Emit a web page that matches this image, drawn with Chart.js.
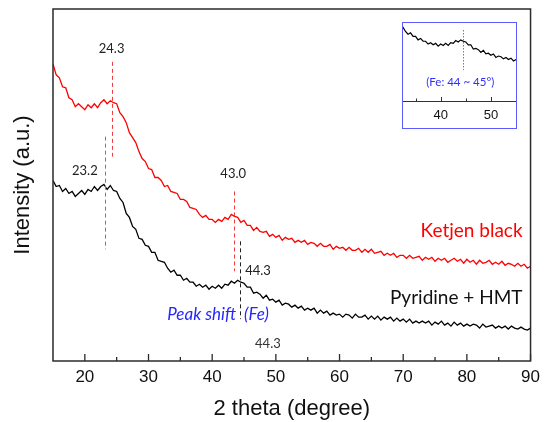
<!DOCTYPE html>
<html>
<head>
<meta charset="utf-8">
<script src="https://cdn.jsdelivr.net/npm/chart.js@4.4.0/dist/chart.umd.min.js"></script>
<style>
  html, body { margin: 0; padding: 0; background: #fff; }
  #wrap { position: relative; width: 546px; height: 422px; }
  #main { position: absolute; left: 0; top: 0; }
  #insetBox { position: absolute; left: 402px; top: 22px; width: 115px; height: 107px;
    border: 1px solid #5a5aff; box-sizing: border-box; background: #fff; }
  #inset { display: block; }
</style>
</head>
<body>
<div id="wrap">
  <canvas id="main" width="546" height="422"></canvas>
  <div id="insetBox"><canvas id="inset" width="113" height="105"></canvas></div>
</div>
<script>
// 2 theta values (degree)
const angles = [
  15, 15.5, 16, 16.5, 17, 17.5, 18, 18.5, 19, 19.5,
  20, 20.5, 21, 21.5, 22, 22.5, 23, 23.5, 24, 24.5,
  25, 25.5, 26, 26.5, 27, 27.5, 28, 28.5, 29, 29.5,
  30, 30.5, 31, 31.5, 32, 32.5, 33, 33.5, 34, 34.5,
  35, 35.5, 36, 36.5, 37, 37.5, 38, 38.5, 39, 39.5,
  40, 40.5, 41, 41.5, 42, 42.5, 43, 43.5, 44, 44.5,
  45, 45.5, 46, 46.5, 47, 47.5, 48, 48.5, 49, 49.5,
  50, 50.5, 51, 51.5, 52, 52.5, 53, 53.5, 54, 54.5,
  55, 55.5, 56, 56.5, 57, 57.5, 58, 58.5, 59, 59.5,
  60, 60.5, 61, 61.5, 62, 62.5, 63, 63.5, 64, 64.5,
  65, 65.5, 66, 66.5, 67, 67.5, 68, 68.5, 69, 69.5,
  70, 70.5, 71, 71.5, 72, 72.5, 73, 73.5, 74, 74.5,
  75, 75.5, 76, 76.5, 77, 77.5, 78, 78.5, 79, 79.5,
  80, 80.5, 81, 81.5, 82, 82.5, 83, 83.5, 84, 84.5,
  85, 85.5, 86, 86.5, 87, 87.5, 88, 88.5, 89, 89.5,
  90
];

// intensity (a.u.)
const ketjenBlack = [
  298, 287, 284, 275, 274, 264, 262, 255, 258, 255,
  252, 257, 254, 258, 254, 259, 262, 258, 261, 259,
  258, 249, 245, 239, 229, 224, 219, 210, 203, 200,
  193, 192, 184, 184, 181, 175, 176, 170, 169, 168,
  162, 162, 160, 154, 153, 152, 147, 144, 146, 142,
  142, 139, 142, 140, 144, 142, 147, 145, 144, 139,
  141, 136, 136, 131, 134, 130, 129, 130, 125, 127,
  124, 126, 121, 124, 122, 123, 119, 121, 119, 121,
  117, 119, 118, 115, 118, 115, 115, 117, 112, 115,
  113, 114, 111, 114, 111, 111, 113, 109, 112, 109,
  112, 108, 109, 110, 106, 108, 106, 108, 104, 106,
  106, 103, 106, 103, 104, 105, 101, 104, 102, 104,
  100, 103, 101, 103, 99, 101, 103, 100, 102, 98,
  102, 99, 101, 97, 101, 98, 99, 101, 97, 99,
  97, 100, 96, 98, 97, 95, 98, 95, 97, 93,
  95
];

const pyridineHmt = [
  181, 175, 176, 170, 173, 168, 170, 165, 168, 171,
  167, 172, 170, 175, 171, 175, 177, 172, 176, 171,
  170, 163, 159, 148, 144, 135, 132, 123, 122, 116,
  115, 109, 109, 101, 100, 99, 93, 89, 91, 86,
  86, 81, 83, 79, 79, 75, 77, 74, 76, 72,
  75, 73, 76, 73, 77, 76, 80, 78, 81, 79,
  78, 74, 74, 68, 69, 67, 63, 66, 61, 62,
  59, 61, 56, 58, 57, 54, 56, 53, 55, 51,
  53, 51, 53, 48, 51, 48, 50, 46, 48, 46,
  47, 44, 47, 46, 43, 47, 44, 44, 46, 42,
  45, 42, 45, 41, 44, 42, 44, 40, 43, 40,
  42, 39, 42, 38, 40, 38, 40, 38, 40, 36,
  39, 37, 40, 36, 38, 35, 39, 36, 38, 35,
  37, 35, 37, 36, 33, 37, 34, 35, 36, 33,
  35, 33, 35, 32, 35, 33, 32, 34, 32, 31,
  33
];

const xTicks = [20, 30, 40, 50, 60, 70, 80, 90];
const xMinorTicks = [25, 35, 45, 55, 65, 75, 85];
const insetTicks = [40, 50];
const insetMinorTicks = [35, 45, 55];

// peak marks: where the dashed lines sit and what the labels say
const peakAngles = [24.3, 23.2, 43.5, 44.3];
const peakLabels = ['24.3', '23.2', '43.0', '44.3'];
const feRange = '(Fe: 44 ~ 45°)';
const feAngle = 44.4;

const toPoints = ys => angles.map((a, i) => ({ x: a, y: ys[i] }));

const labelFont = '13px Lato';

// dashed line extents and label spots, in data units
const peakStyle = [
  { from: 205, to: 300, color: '#f03c3c', lx: 24.2, ly: 313 },
  { from: 112, to: 225, color: '#7a7a7a', lx: 20.0, ly: 191 },
  { from: 90, to: 170, color: '#f03c3c', lx: 43.3, ly: 188 },
  { from: 42, to: 120, color: '#222222', lx: 47.2, ly: 90 }
];

const framePlugin = {
  id: 'frame',
  afterDatasetsDraw(chart) {
    const { ctx, chartArea: a, scales: { x } } = chart;
    ctx.save();
    ctx.strokeStyle = '#2b2b2b';
    ctx.lineWidth = 1.5;
    ctx.strokeRect(a.left, a.top, a.right - a.left, a.bottom - a.top);
    ctx.lineWidth = 1.3;
    ctx.beginPath();
    xTicks.forEach(v => {
      const px = x.getPixelForValue(v);
      ctx.moveTo(px, a.bottom);
      ctx.lineTo(px, a.bottom - 7);
    });
    xMinorTicks.forEach(v => {
      const px = x.getPixelForValue(v);
      ctx.moveTo(px, a.bottom);
      ctx.lineTo(px, a.bottom - 4);
    });
    ctx.stroke();
    ctx.restore();
  }
};

const peakPlugin = {
  id: 'peaks',
  afterDatasetsDraw(chart) {
    const { ctx, scales: { x, y } } = chart;
    ctx.save();
    ctx.lineWidth = 1;
    ctx.setLineDash([4, 3]);
    peakAngles.forEach((p, i) => {
      const s = peakStyle[i];
      const px = Math.round(x.getPixelForValue(p)) + 0.5;
      ctx.strokeStyle = s.color;
      ctx.beginPath();
      ctx.moveTo(px, y.getPixelForValue(s.to));
      ctx.lineTo(px, y.getPixelForValue(s.from));
      ctx.stroke();
    });
    ctx.setLineDash([]);
    ctx.textAlign = 'center';
    ctx.textBaseline = 'middle';
    ctx.font = labelFont;
    ctx.fillStyle = '#222';
    peakLabels.forEach((t, i) => {
      const s = peakStyle[i];
      ctx.fillText(t, x.getPixelForValue(s.lx), y.getPixelForValue(s.ly));
    });
    ctx.fillStyle = '#333';
    ctx.fillText('44.3', x.getPixelForValue(48.75), y.getPixelForValue(17));

    ctx.fillStyle = '#2626ff';
    ctx.font = 'italic 17px Lato';
    ctx.textAlign = 'right';
    ctx.fillText('Peak shift', x.getPixelForValue(43.75), y.getPixelForValue(47));
    ctx.textAlign = 'left';
    ctx.fillText('(Fe)', x.getPixelForValue(45.0), y.getPixelForValue(47));

    ctx.textAlign = 'right';
    ctx.font = '19px Lato';
    ctx.fillStyle = '#ff0000';
    ctx.fillText('Ketjen black', x.getPixelForValue(88.75), y.getPixelForValue(130));
    ctx.fillStyle = '#111';
    ctx.fillText('Pyridine + HMT', x.getPixelForValue(88.75), y.getPixelForValue(63));
    ctx.restore();
  }
};

new Chart(document.getElementById('main'), {
  type: 'line',
  data: {
    datasets: [
      { label: 'Ketjen black', data: toPoints(ketjenBlack), borderColor: '#ff0000',
        borderWidth: 1.3, pointRadius: 0, tension: 0 },
      { label: 'Pyridine + HMT', data: toPoints(pyridineHmt), borderColor: '#000000',
        borderWidth: 1.3, pointRadius: 0, tension: 0 }
    ]
  },
  options: {
    responsive: false,
    animation: false,
    layout: { padding: { top: 9, right: 13, left: 0, bottom: 0 } },
    plugins: { legend: { display: false }, tooltip: { enabled: false } },
    scales: {
      x: {
        type: 'linear', min: 15, max: 90,
        afterBuildTicks: s => { s.ticks = xTicks.map(v => ({ value: v })); },
        afterFit: s => { s.height = 61; },
        grid: { display: false, drawTicks: false },
        border: { display: false },
        ticks: { color: '#111', font: { family: 'Liberation Sans', size: 17 }, padding: 6, maxRotation: 0 },
        title: { display: true, text: '2 theta (degree)', color: '#111',
          font: { family: 'Liberation Sans', size: 22 }, padding: { top: 0, bottom: 0 } }
      },
      y: {
        min: 0, max: 353,
        ticks: { display: false },
        grid: { display: false, drawTicks: false },
        border: { display: false },
        afterFit: s => { s.width = 53; },
        title: { display: true, text: 'Intensity (a.u.)', color: '#111',
          font: { family: 'Liberation Sans', size: 22 }, padding: { top: 10, bottom: 0 } }
      }
    }
  },
  plugins: [framePlugin, peakPlugin]
});

// inset: zoom of the Fe region
const insetPlugin = {
  id: 'insetMarks',
  afterDatasetsDraw(chart) {
    const { ctx, chartArea: a, scales: { x, y } } = chart;
    ctx.save();
    ctx.strokeStyle = '#333';
    ctx.lineWidth = 1;
    ctx.beginPath();
    insetTicks.forEach(v => {
      const px = Math.round(x.getPixelForValue(v)) + 0.5;
      ctx.moveTo(px, a.bottom);
      ctx.lineTo(px, a.bottom - 4);
    });
    insetMinorTicks.forEach(v => {
      const px = Math.round(x.getPixelForValue(v)) + 0.5;
      ctx.moveTo(px, a.bottom);
      ctx.lineTo(px, a.bottom - 2.5);
    });
    ctx.stroke();
    const fx = Math.round(x.getPixelForValue(feAngle)) + 0.5;
    ctx.strokeStyle = '#6a6aff';
    ctx.setLineDash([1.5, 1.5]);
    ctx.beginPath();
    ctx.moveTo(fx, y.getPixelForValue(95));
    ctx.lineTo(fx, y.getPixelForValue(38));
    ctx.stroke();
    ctx.setLineDash([]);
    ctx.fillStyle = '#3030ff';
    ctx.font = '11.5px Lato';
    ctx.textAlign = 'center';
    ctx.textBaseline = 'middle';
    ctx.fillText(feRange, x.getPixelForValue(43.9), y.getPixelForValue(21));
    ctx.restore();
  }
};

new Chart(document.getElementById('inset'), {
  type: 'line',
  data: {
    datasets: [
      { data: toPoints(pyridineHmt).filter(p => p.x >= 32 && p.x <= 56), borderColor: '#000000',
        borderWidth: 1.2, pointRadius: 0, tension: 0 }
    ]
  },
  options: {
    responsive: false,
    animation: false,
    layout: { padding: 0 },
    plugins: { legend: { display: false }, tooltip: { enabled: false } },
    scales: {
      x: {
        type: 'linear', min: 32.5, max: 55,
        afterBuildTicks: s => { s.ticks = insetTicks.map(v => ({ value: v })); },
        afterFit: s => { s.height = 27; },
        grid: { display: false, drawTicks: false },
        border: { display: true, color: '#333', width: 1 },
        ticks: { color: '#111', font: { family: 'Liberation Sans', size: 13 }, padding: 7, maxRotation: 0 }
      },
      y: { display: false, min: -6, max: 105 }
    }
  },
  plugins: [insetPlugin]
});
</script>
</body>
</html>
